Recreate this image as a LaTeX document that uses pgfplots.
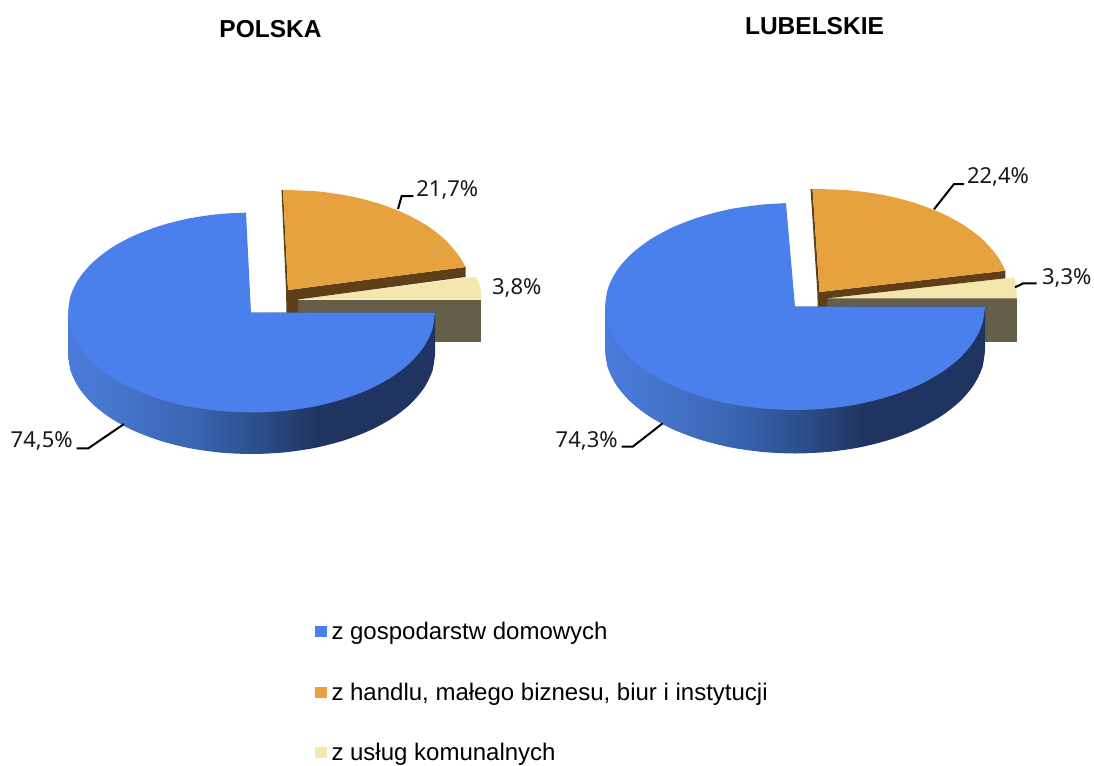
\documentclass[border=0pt]{standalone}
\usepackage{fontspec}
\setmainfont{Liberation Sans}
\newfontfamily\labelfont{Noto Sans}
\usepackage{pgfplots}
\pgfplotsset{compat=1.18}
\definecolor{cblue}{HTML}{4A7FEC}
\definecolor{corange}{HTML}{E6A23F}
\definecolor{ccream}{HTML}{F3E7AE}
\definecolor{cbrown}{HTML}{5F3F18}
\definecolor{cbox}{HTML}{655F49}
\definecolor{sa}{HTML}{4A7BDB}
\definecolor{sb}{HTML}{4473C9}
\definecolor{sc}{HTML}{3863AE}
\definecolor{sd}{HTML}{2C4E8A}
\definecolor{se}{HTML}{203461}
\pgfdeclarehorizontalshading{blueside}{100bp}{color(0bp)=(sa); color(25bp)=(sa); color(33bp)=(sb); color(43bp)=(sc); color(51bp)=(sd); color(59bp)=(se); color(75bp)=(se); color(100bp)=(se)}
\tikzset{
  vallabel/.style={font=\labelfont\fontsize{22}{26}\selectfont, anchor=base, inner sep=0pt, text=black!90},
  ttl/.style={font=\bfseries\fontsize{24.5}{28}\selectfont, anchor=base, inner sep=0pt},
}
\begin{document}
\begin{tikzpicture}
\path[use as bounding box] (0,0) rectangle (1094pt,765pt);
\begin{axis}[
  scale only axis, width=1094pt, height=765pt,
  xmin=0, xmax=1094, ymin=0, ymax=765, y dir=reverse,
  hide axis, clip=false,
  legend style={draw=none, fill=none, at={(axis cs:315,620.5)}, anchor=north west,
    font=\fontsize{24}{28}\selectfont, row sep=37.5pt, inner sep=0pt, outer sep=0pt,
    nodes={inner sep=2pt}},
  legend cell align=left,
  legend image code/.code={\fill[#1] (0pt,-5.5pt) rectangle (11.5pt,5.5pt); \path (0pt,0pt) -- (14.5pt,0pt);},
]
%% POLSKA, pixel outlines
\addplot[forget plot, fill=cbox, draw=none] coordinates {(298,299.5)(481,299.5)(481,342)(298,342)};
\addplot[forget plot, fill=ccream, draw=none] coordinates {(298,299.5)(476,276.5)(479,283)(481,291)(481,299.5)};
\addplot[forget plot, fill=cbrown, draw=none] coordinates {(281.5,190)(283,190)(288,290)(465.5,267)(465.5,277)(298,299.5)(298,313)(286.5,313)(286,290)};
\addplot[forget plot, fill=corange, draw=none] coordinates {(283,190)(378.3,203.4)(427.1,225.7)(465.5,267)(288,290)};
\addplot[forget plot, fill=corange, draw=none, smooth] coordinates {(283,190)(286.5,190)(318.4,191.5)(349.3,196)(378.3,203.4)(404.5,213.4)(427.1,225.7)(445.4,240)(458.9,255.8)(465.5,267)};
\addplot[forget plot, shading=blueside, draw=none] coordinates {(435,312.5)(435,354)(432.2,371.4)(70.8,371.4)(68,354)(68,312.5)};
\addplot[forget plot, shading=blueside, draw=none, smooth] coordinates {(435,354)(432.2,371.4)(423.9,388.2)(410.4,404)(392.1,418.3)(369.5,430.6)(343.3,440.6)(314.3,448)(283.4,452.5)(251.5,454)(219.6,452.5)(188.7,448)(159.7,440.6)(133.5,430.6)(110.9,418.3)(92.6,404)(79.1,388.2)(70.8,371.4)(68,354)};
\addplot[forget plot, fill=cblue, draw=none, smooth] coordinates {(435,312.5)(432.2,329.9)(423.9,346.7)(410.4,362.5)(392.1,376.8)(369.5,389.1)(343.3,399.1)(314.3,406.5)(283.4,411)(251.5,412.5)(219.6,411)(188.7,406.5)(159.7,399.1)(133.5,389.1)(110.9,376.8)(92.6,362.5)(79.1,346.7)(70.8,329.9)(68,312.5)};
\addplot[forget plot, fill=cblue, draw=none, smooth] coordinates {(68,312.5)(70.8,295.1)(79.1,278.3)(92.6,262.5)(110.9,248.2)(133.5,235.9)(159.7,225.9)(188.7,218.5)(219.6,214)(246,212.7)};
\addplot[forget plot, fill=cblue, draw=none] coordinates {(68,314)(110.9,248.2)(188.7,218.5)(246,212.7)(251,312.5)(251,314)};
%% LUBELSKIE
\addplot[forget plot, fill=cbox, draw=none] coordinates {(827.3,298.3)(1017,298.3)(1017,341.7)(827.3,341.7)};
\addplot[forget plot, fill=ccream, draw=none] coordinates {(827.3,298.3)(1014.3,277.3)(1016,285)(1017,298.3)};
\addplot[forget plot, fill=cbrown, draw=none] coordinates {(810.5,189)(812.5,189)(819.5,292)(1005.3,270.7)(1005.3,278.3)(827.3,298.3)(827.3,307)(817.7,307)(817.3,292)};
\addplot[forget plot, fill=corange, draw=none] coordinates {(812.5,189)(914.5,202.9)(965,226)(1005.3,270.7)(819.5,292)};
\addplot[forget plot, fill=corange, draw=none, smooth] coordinates {(812.5,189)(819.5,189)(852.5,190.6)(884.5,195.2)(914.5,202.9)(941.6,213.2)(965,226)(984,240.75)(998,257.1)(1005.3,270.7)};
\addplot[forget plot, shading=blueside, draw=none] coordinates {(985,306.5)(985,350)(982.1,368)(607.9,368)(605,350)(605,306.5)};
\addplot[forget plot, shading=blueside, draw=none, smooth] coordinates {(985,350)(982.1,368)(973.5,385.4)(959.5,401.75)(940.5,416.5)(917.1,429.3)(890,439.6)(860,447.3)(828,451.9)(795,453.5)(762,451.9)(730,447.3)(700,439.6)(672.9,429.3)(649.5,416.5)(630.5,401.75)(616.5,385.4)(607.9,368)(605,350)};
\addplot[forget plot, fill=cblue, draw=none, smooth] coordinates {(985,306.5)(982.1,324.5)(973.5,341.9)(959.5,358.25)(940.5,373)(917.1,385.8)(890,396.1)(860,403.8)(828,408.4)(795,410)(762,408.4)(730,403.8)(700,396.1)(672.9,385.8)(649.5,373)(630.5,358.25)(616.5,341.9)(607.9,324.5)(605,306.5)};
\addplot[forget plot, fill=cblue, draw=none, smooth] coordinates {(605,306.5)(607.9,288.5)(616.5,271.1)(630.5,254.75)(649.5,240)(672.9,227.2)(700,216.9)(730,209.2)(762,204.6)(786,203.3)};
\addplot[forget plot, fill=cblue, draw=none] coordinates {(605,308)(649.5,240)(730,209.2)(786,203.3)(795,306.5)(795,308)};
%% leader lines
\addplot[forget plot, black, line width=2pt] coordinates {(398,209)(401.7,196)(413.3,196)};
\addplot[forget plot, black, line width=2pt] coordinates {(124,424)(88.3,448.3)(76.7,448.3)};
\addplot[forget plot, black, line width=2pt] coordinates {(934,209.3)(954,184)(964,184)};
\addplot[forget plot, black, line width=2pt] coordinates {(1015,287.3)(1023.3,283.3)(1036.7,283.3)};
\addplot[forget plot, black, line width=2pt] coordinates {(662.7,423.3)(632.7,446.7)(621.7,446.7)};
%% legend
\addlegendimage{fill=cblue, draw=none}
\addlegendentry{z gospodarstw domowych}
\addlegendimage{fill=corange, draw=none}
\addlegendentry{z handlu, małego biznesu, biur i instytucji}
\addlegendimage{fill=ccream, draw=none}
\addlegendentry{z usług komunalnych}
%% texts
\node[ttl] at (axis cs:270.5,38) {POLSKA};
\node[ttl] at (axis cs:814.5,35) {LUBELSKIE};
\node[vallabel] at (axis cs:447.3,196.7) {21,7\%};
\node[vallabel] at (axis cs:516.7,294.3) {3,8\%};
\node[vallabel] at (axis cs:41.7,447.7) {74,5\%};
\node[vallabel] at (axis cs:998,183.3) {22,4\%};
\node[vallabel] at (axis cs:1066.7,284.3) {3,3\%};
\node[vallabel] at (axis cs:586.7,447.7) {74,3\%};
\end{axis}
\end{tikzpicture}
\end{document}
